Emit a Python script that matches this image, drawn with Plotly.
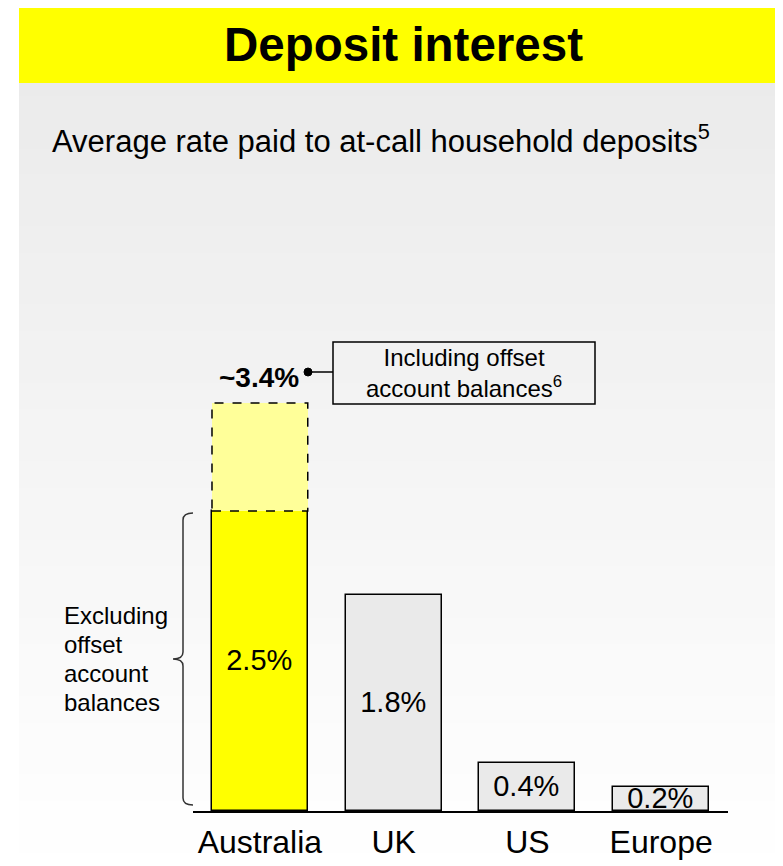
import plotly.graph_objects as go

# =============================================================================
# DATA
# =============================================================================
categories = ["Australia", "UK", "US", "Europe"]
rates = [2.5, 1.8, 0.4, 0.2]
rate_labels = ["2.5%", "1.8%", "0.4%", "0.2%"]
bar_colors = ["#ffff00", "#eaeaea", "#eaeaea", "#eaeaea"]

offset_rate = 3.4          # Australia incl. offset account balances
offset_label = "~3.4%"

TITLE = "Deposit interest"
SUBTITLE = "Average rate paid to at-call household deposits<sup>5</sup>"
BOX_TEXT = "Including offset<br>account balances<sup>6</sup>"
BRACE_LINES = ["Excluding", "offset", "account", "balances"]

# =============================================================================
# LAYOUT HELPERS
# =============================================================================
# page body has an 8px margin, so the figure is drawn 8px smaller and all
# positions below are given in screen pixels, then shifted
OFF = 8
W, H = 783 - OFF, 866 - OFF
AX_L, AX_R, AX_T, AX_B = 193, 728, 100, 811          # plot area on screen
L, R, T, B = AX_L - OFF, W - (AX_R - OFF), AX_T - OFF, H - (AX_B - OFF)
PW, PH = W - L - R, H - T - B
FONT = "Liberation Sans, Arial, sans-serif"
BAR_W = 0.716


def px(x):
    return (x - AX_L) / PW


def py(y):
    return (AX_B - y) / PH


shapes = []

# grey gradient background
n = 60
y_top = 83
for i in range(n):
    y0 = y_top + (866 - y_top) * i / n
    y1 = y_top + (866 - y_top) * (i + 1) / n + 1
    g = int(round(235 + 20 * (i + 0.5) / n))
    shapes.append(dict(type="rect", xref="paper", yref="paper",
                       x0=px(19), x1=px(783), y0=py(y1), y1=py(y0),
                       fillcolor=f"rgb({g},{g},{g})", line=dict(width=0), layer="below"))

# yellow title band
shapes.append(dict(type="rect", xref="paper", yref="paper",
                   x0=px(19), x1=px(783), y0=py(83), y1=py(4),
                   fillcolor="#ffff00", line=dict(width=0), layer="below"))

# dashed outline for the offset-balances part of the Australia bar
shapes.append(dict(type="rect", xref="x", yref="y",
                   x0=-BAR_W / 2, x1=BAR_W / 2, y0=rates[0], y1=offset_rate,
                   line=dict(color="black", width=1.5, dash="dash"), layer="above"))

# callout: dot, connector, box
shapes.append(dict(type="circle", xref="paper", yref="paper",
                   x0=px(304), x1=px(312), y0=py(376), y1=py(368),
                   fillcolor="black", line=dict(color="black", width=1)))
shapes.append(dict(type="line", xref="paper", yref="paper",
                   x0=px(308), x1=px(333), y0=py(372), y1=py(372),
                   line=dict(color="black", width=1.5)))
shapes.append(dict(type="rect", xref="paper", yref="paper",
                   x0=px(333), x1=px(595), y0=py(404), y1=py(342),
                   line=dict(color="black", width=1.5)))

# curly brace next to the Australia bar
pts = [(193, 513), (183, 513), (183, 520), (183, 652), (183, 659), (173, 659),
       (183, 659), (183, 666), (183, 798), (183, 805), (193, 805)]
P = [f"{px(x):.5f},{py(y):.5f}" for x, y in pts]
brace = (f"M {P[0]} Q {P[1]} {P[2]} L {P[3]} Q {P[4]} {P[5]} "
         f"Q {P[6]} {P[7]} L {P[8]} Q {P[9]} {P[10]}")
shapes.append(dict(type="path", xref="paper", yref="paper", path=brace,
                   line=dict(color="#333333", width=1.5)))

# =============================================================================
# FIGURE
# =============================================================================
fig = go.Figure()

fig.add_trace(go.Bar(
    x=categories, y=rates, width=BAR_W,
    marker=dict(color=bar_colors, line=dict(color="black", width=1.5)),
    text=rate_labels, textposition="inside", insidetextanchor="middle",
    textangle=0, constraintext="none",
    textfont=dict(size=29, color="black", family=FONT),
    hoverinfo="skip", showlegend=False
))

fig.add_trace(go.Bar(
    x=[categories[0]], y=[offset_rate - rates[0]], base=[rates[0]], width=BAR_W,
    marker=dict(color="#ffff99", line=dict(width=0)),
    hoverinfo="skip", showlegend=False
))

annotations = [
    dict(x=px(403), y=py(45), text=f"<b>{TITLE}</b>", xanchor="center",
         font=dict(size=47.5, color="black", family=FONT)),
    dict(x=px(50), y=py(139), text=SUBTITLE, xanchor="left",
         font=dict(size=31, color="black", family=FONT)),
    dict(x=px(259), y=py(377), text=f"<b>{offset_label}</b>", xanchor="center",
         font=dict(size=28, color="black", family=FONT)),
    dict(x=px(464), y=py(373), text=BOX_TEXT, xanchor="center",
         font=dict(size=24, color="black", family=FONT)),
]
for k, line in enumerate(BRACE_LINES):
    annotations.append(dict(x=px(62), y=py(615 + 29 * k), text=line, xanchor="left",
                            font=dict(size=24, color="black", family=FONT)))
for a in annotations:
    a.update(xref="paper", yref="paper", yanchor="middle", showarrow=False)

fig.update_layout(
    width=W, height=H,
    margin=dict(l=L, r=R, t=T, b=B, autoexpand=False),
    paper_bgcolor="white", plot_bgcolor="rgba(0,0,0,0)",
    barmode="overlay", bargap=0,
    shapes=shapes, annotations=annotations,
    font=dict(family=FONT, color="black"),
    hovermode=False,
)
fig.update_xaxes(range=[-0.5, 3.5], showline=True, linecolor="black", linewidth=2,
                 ticks="", showgrid=False, zeroline=False, automargin=False,
                 ticklabelstandoff=2,
                 tickfont=dict(size=32, color="black", family=FONT))
fig.update_yaxes(range=[0, 5.925], visible=False, automargin=False)

fig.write_html("out.html")
